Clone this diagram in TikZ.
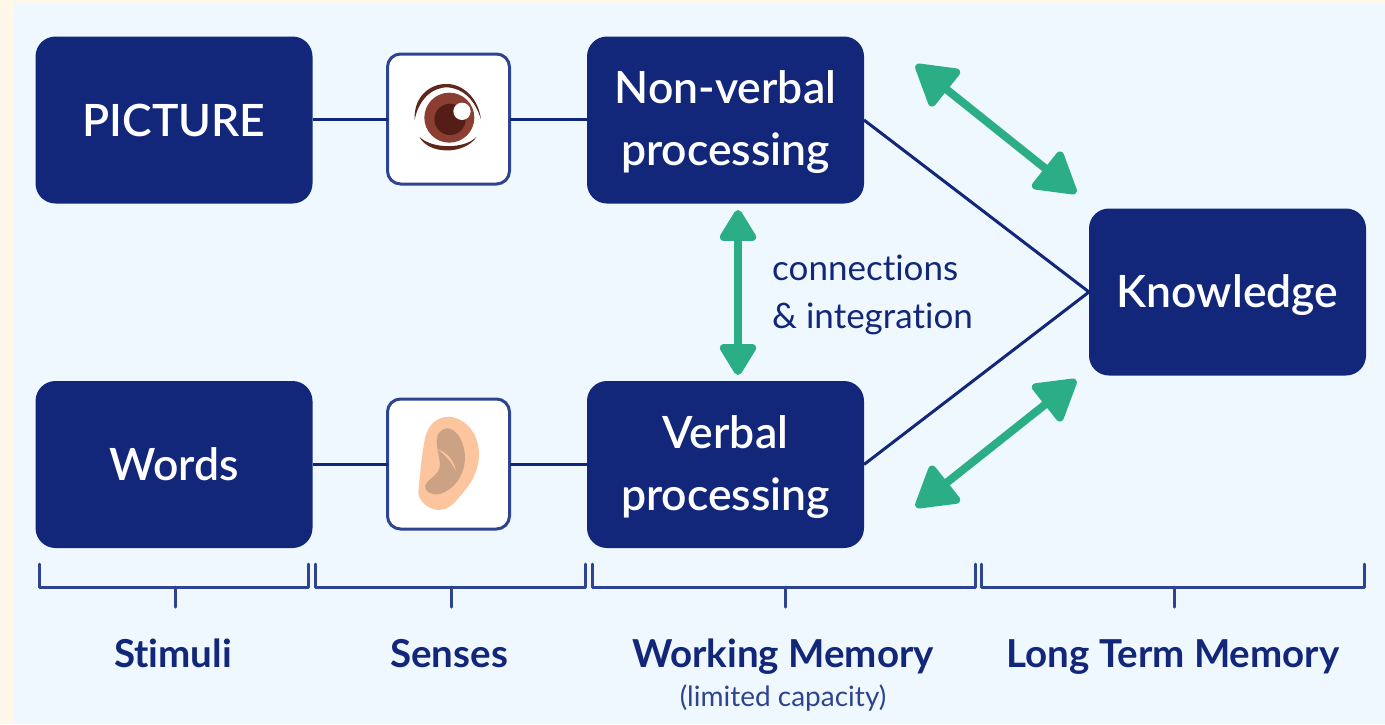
\documentclass[tikz,border=0pt]{standalone}
\usepackage{fontspec}
\setmainfont{Lato}[Ligatures=NoCommon]
\newfontfamily\semi{Lato Semibold}[Ligatures=NoCommon]
\usetikzlibrary{arrows.meta}
\definecolor{navy}{HTML}{12267A}
\definecolor{brk}{HTML}{2F4490}
\definecolor{grn}{HTML}{2BAE85}
\definecolor{panel}{HTML}{EFF8FF}
\definecolor{cream}{HTML}{FFF8E8}
\definecolor{iris}{RGB}{139,62,50}
\definecolor{pupil}{RGB}{84,30,22}
\definecolor{lash}{RGB}{96,38,28}
\definecolor{earskin}{RGB}{252,197,158}
\definecolor{earin}{RGB}{203,162,132}
\newcommand{\drop}[1]{\rule{0pt}{#1pt}}
\tikzset{
  darkbox/.style={fill=navy,draw=none,rounded corners=20pt,minimum width=277pt,minimum height=167pt,inner sep=0pt,outer sep=0pt,text=white,font=\fontsize{44.5}{62}\selectfont\semi,align=center},
  sensebox/.style={fill=white,draw=brk,line width=3pt,rounded corners=13pt,minimum width=122pt,minimum height=130pt,inner sep=0pt,outer sep=0pt},
  link/.style={draw=navy,line width=3pt},
  bracket/.style={draw=brk,line width=3pt,line cap=round,line join=round},
  twoway/.style={draw=grn,line width=8pt,{Triangle[length=#1,width=#1*1.15,round,fill=grn]}-{Triangle[length=#1,width=#1*1.15,round,fill=grn]}},
  steplabel/.style={text=navy,font=\fontsize{38.5}{44}\selectfont\bfseries,inner sep=0pt,anchor=base},
  midlabel/.style={text=navy,font=\fontsize{35}{40}\selectfont,inner sep=0pt,anchor=base west}
}
\begin{document}
\begin{tikzpicture}[x=1pt,y=-1pt]
\useasboundingbox (0,0) rectangle (1385,724);
\fill[cream] (0,0) rectangle (1385,724);
\fill[panel] (14,3) rectangle (1385,724);
% boxes
\node[darkbox] (picture) at (174,120) {PICTURE};
\node[darkbox] (words) at (174,464.5) {Words};
\node[darkbox] (nonverbal) at (725.5,120) {\drop{38}Non-verbal\\processing};
\node[darkbox] (verbal) at (725.5,464.5) {\drop{38}Verbal\\processing};
\node[darkbox] (knowledge) at (1227.5,292) {\drop{39}Knowledge};
\node[sensebox] (eye) at (448.5,119) {};
\node[sensebox] (ear) at (448.5,464) {};
% connectors
\draw[link] (eye.west -| picture.east) -- (eye.west);
\draw[link] (eye.east) -- (eye.east -| nonverbal.west);
\draw[link] (ear.west -| words.east) -- (ear.west);
\draw[link] (ear.east) -- (ear.east -| verbal.west);
\draw[link] (nonverbal.east) -- (knowledge.west);
\draw[link] (verbal.east) -- (knowledge.west);
% green arrows
\coordinate (a1) at (916,65);
\coordinate (a2) at (1076,193);
\coordinate (b1) at (916,507);
\coordinate (b2) at (1076,380);
\coordinate (c1) at (738,210);
\coordinate (c2) at (738,375);
\draw[twoway=44pt] (a1) -- (a2);
\draw[twoway=44pt] (b1) -- (b2);
\draw[twoway=35pt] (c1) -- (c2);
\node[midlabel] (conn) at (772,280) {connections};
\node[midlabel] (integ) at (772,328) {\& integration};
% eye
\begin{scope}[shift={(370,40)},scale=1/3]
\fill[iris] (238,233) circle (75);
\fill[pupil] (240,238) circle (47);
\fill[white] (276,214) circle (26);
\fill[lash] (134,240) .. controls (130,170) and (180,130) .. (232,132) .. controls (280,133) and (325,175) .. (333,238) .. controls (315,180) and (280,145) .. (232,142) .. controls (185,142) and (145,180) .. (134,240) -- cycle;
\fill[lash] (148,290) .. controls (175,345) and (285,345) .. (320,290) .. controls (285,328) and (185,328) .. (148,290) -- cycle;
\end{scope}
% ear
\begin{scope}[shift={(370,385)},scale=1/3]
\fill[earskin] (165,160) .. controls (175,115) and (205,95) .. (238,95) .. controls (290,100) and (328,150) .. (327,210) .. controls (325,265) and (300,300) .. (265,340) .. controls (245,365) and (225,375) .. (205,375) .. controls (175,373) and (145,350) .. (145,320) .. controls (150,270) and (155,210) .. (165,160) -- cycle;
\fill[earin] (200,170) .. controls (200,145) and (215,128) .. (238,130) .. controls (268,140) and (285,180) .. (285,220) .. controls (283,270) and (255,315) .. (205,328) .. controls (180,330) and (165,318) .. (165,303) .. controls (170,285) and (190,280) .. (205,258) .. controls (218,235) and (200,200) .. (200,170) -- cycle;
\fill[earskin] (204,193) .. controls (235,205) and (252,228) .. (258,258) .. controls (245,232) and (228,212) .. (204,193) -- cycle;
\end{scope}
% brackets
\draw[bracket] (39,564) -- (39,587) -- (308,587) -- (308,564);
\draw[bracket] (175,587) -- (175,607);
\draw[bracket] (315,564) -- (315,587) -- (585,587) -- (585,564);
\draw[bracket] (451,587) -- (451,607);
\draw[bracket] (592,564) -- (592,587) -- (975,587) -- (975,564);
\draw[bracket] (785,587) -- (785,607);
\draw[bracket] (981,564) -- (981,587) -- (1364,587) -- (1364,564);
\draw[bracket] (1174,587) -- (1174,607);
% labels
\node[steplabel] (l1) at (173,667) {Stimuli};
\node[steplabel] (l2) at (449,667) {Senses};
\node[steplabel] (l3) at (783,667) {Working Memory};
\node[steplabel] (l4) at (1173,667) {Long Term Memory};
\node[text=brk,font=\fontsize{28}{30}\selectfont,inner sep=0pt,anchor=base] (l5) at (783,706) {(limited capacity)};
\end{tikzpicture}
\end{document}
